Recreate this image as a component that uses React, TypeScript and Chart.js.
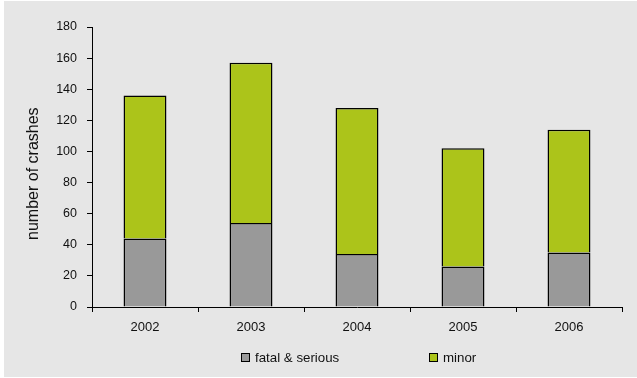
import React, { useEffect, useRef } from "react";
import { Chart, registerables } from "chart.js";

Chart.register(...registerables);

const years = ["2002", "2003", "2004", "2005", "2006"];
const fatalSerious = [44, 54, 34, 26, 35];
const minorTotals = [136, 157, 128, 102, 114];
const minor = minorTotals.map((t, i) => t - fatalSerious[i]);
const yTicksMax = 180;
const yStep = 20;
const axisTitle = "number of crashes";
const seriesNames = ["fatal & serious", "minor"];
const seriesColors = ["#999999", "#acc41a"];

const FONT = "'Liberation Sans', Arial, sans-serif";

export default function App() {
  const ref = useRef<HTMLCanvasElement>(null);

  useEffect(() => {
    if (!ref.current) return;
    const chart = new Chart(ref.current, {
      type: "bar",
      data: {
        labels: years,
        datasets: [
          {
            label: seriesNames[0],
            data: fatalSerious,
            backgroundColor: seriesColors[0],
            borderColor: "#000",
            borderWidth: 1.5,
            barPercentage: 0.5,
            categoryPercentage: 0.81,
          },
          {
            label: seriesNames[1],
            data: minor,
            backgroundColor: seriesColors[1],
            borderColor: "#000",
            borderWidth: 1.5,
            barPercentage: 0.5,
            categoryPercentage: 0.81,
          },
        ],
      },
      options: {
        responsive: false,
        animation: false,
        layout: { padding: { left: 0, right: 15, top: 26, bottom: 0 } },
        plugins: {
          legend: { display: false },
          tooltip: { enabled: false },
        },
        scales: {
          x: {
            stacked: true,
            grid: {
              offset: true,
              drawOnChartArea: false,
              drawTicks: true,
              tickLength: 5,
              color: "#000",
            },
            border: { display: true, color: "#000", width: 1 },
            ticks: { color: "#111", font: { family: FONT, size: 13 }, padding: 8 },
            afterFit: (s: any) => {
              s.height = 70;
            },
          },
          y: {
            stacked: true,
            min: 0,
            max: yTicksMax,
            ticks: {
              stepSize: yStep,
              color: "#111",
              font: { family: FONT, size: 12.5 },
              padding: 10,
            },
            grid: {
              drawOnChartArea: false,
              drawTicks: true,
              tickLength: 5,
              color: "#000",
            },
            border: { display: true, color: "#000", width: 1 },
            title: {
              display: true,
              text: axisTitle + "\u00a0\u00a0\u00a0",
              color: "#111",
              font: { family: FONT, size: 16 },
              padding: { top: 20, bottom: 0 },
            },
            afterFit: (s: any) => {
              s.width = 88;
            },
          },
        },
      },
    });
    return () => chart.destroy();
  }, []);

  const legendItem = (left: number, i: number) => (
    <div
      key={i}
      style={{
        position: "absolute",
        left,
        top: 349,
        display: "flex",
        alignItems: "center",
        fontFamily: FONT,
        fontSize: 13.3,
        color: "#111",
        whiteSpace: "nowrap",
      }}
    >
      <span
        style={{
          display: "inline-block",
          width: 7,
          height: 7,
          background: seriesColors[i],
          border: "1px solid #000",
          marginRight: 5,
        }}
      />
      <span>{seriesNames[i]}</span>
    </div>
  );

  return (
    <div
      style={{
        position: "absolute",
        left: 4,
        top: 1,
        width: 633,
        height: 376,
        background: "#e6e6e6",
      }}
    >
      <canvas ref={ref} width={633} height={376} style={{ display: "block" }} />
      {legendItem(237, 0)}
      {legendItem(425, 1)}
    </div>
  );
}
